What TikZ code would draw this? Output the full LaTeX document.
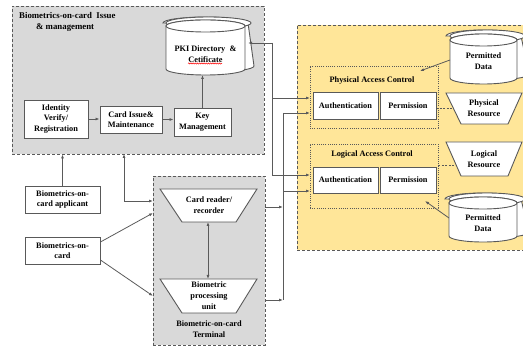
\documentclass[tikz,border=0pt]{standalone}
\usepackage{fontspec}
\setmainfont{Liberation Serif}
\newfontfamily\diagfont{Liberation Serif}
\usetikzlibrary{arrows.meta,decorations.pathmorphing}

\definecolor{panelgray}{HTML}{D9D9D9}
\definecolor{paleyellow}{HTML}{FFE699}
\definecolor{edgegray}{HTML}{595959}
\definecolor{linkgray}{HTML}{5A5A5A}

\tikzset{
  panel/.style={draw=edgegray, line width=0.8pt, dash pattern=on 3pt off 2pt, inner sep=0pt},
  group/.style={draw=edgegray, line width=0.7pt, dash pattern=on 1pt off 1.2pt, inner sep=0pt},
  box/.style={draw=edgegray, line width=0.9pt, fill=white, inner sep=0pt, align=center,
              font=\diagfont\bfseries\fontsize{8.3}{10.5}\selectfont},
  lbl/.style={inner sep=0pt, align=center, font=\diagfont\bfseries\fontsize{8.3}{11}\selectfont},
  trap/.style={draw=edgegray, line width=0.9pt, fill=white},
  drum/.style={draw=edgegray, line width=0.9pt, fill=white},
  link/.style={draw=linkgray, line width=0.8pt, -{Latex[length=4pt,width=3pt]}},
  biarrow/.style={draw=linkgray, line width=0.8pt, {Latex[length=4pt,width=3pt]}-{Latex[length=4pt,width=3pt]}},
  dashlink/.style={draw=edgegray, line width=0.7pt, dash pattern=on 2pt off 1.5pt},
}

% one upright cylinder: left, right, top, bottom, half-height of the rim ellipse
\newcommand\drumbody[5]{%
  \pgfmathsetmacro\drumcx{(#1+#2)/2}%
  \pgfmathsetmacro\drumrx{(#2-#1)/2}%
  \filldraw[drum] (#1,#3+#5) -- (#1,#4-#5)
    arc[start angle=180,end angle=360,x radius=\drumrx pt,y radius=#5 pt]
    -- (#2,#3+#5)
    arc[start angle=0,end angle=180,x radius=\drumrx pt,y radius=#5 pt] -- cycle;
  \draw[drum] (\drumcx,#3+#5) ellipse[x radius=\drumrx pt,y radius=#5 pt];
}
% a stack of two cylinders, the rear one shifted up and right
\newcommand\drumstack[6]{%
  \drumbody{#1+#6}{#2+#6}{#3-#6}{#4-#6}{#5}%
  \drumbody{#1}{#2}{#3}{#4}{#5}%
}

\begin{document}
\begin{tikzpicture}[x=1pt,y=-1pt]
\useasboundingbox (0,0) rectangle (523,347);
\clip (0,0) rectangle (523,347);

% ---------------- panels ----------------
\node[panel, fill=panelgray, minimum width=252pt, minimum height=148pt] (issue) at (138,80) {};
\node[panel, fill=paleyellow, minimum width=232pt, minimum height=225pt] (access) at (413,137.5) {};
\node[panel, fill=panelgray, minimum width=112pt, minimum height=169pt] (term) at (209,260.5) {};

\node[lbl, anchor=north west, align=left, font=\diagfont\bfseries\fontsize{8.8}{11}\selectfont]
  (issuetitle) at (19,12) {Biometrics-on-card~~Issue\\\hspace*{17pt}\& management};

% ---------------- issue & management ----------------
\drumstack{166}{245}{20}{75}{6}{3}
\node[lbl] (pki) at (205.5,54) {PKI Directory~~\&\\Cetificate};
\draw[red, line width=0.5pt, decorate, decoration={snake, amplitude=0.6pt, segment length=2.2pt}]
  (188,63.5) -- (222,63.5);
\coordinate (pkiR) at (248,43);
\coordinate (pkiB) at (202.5,75);

\node[box, minimum width=64pt, minimum height=38pt] (ident) at (56,119) {Identity\\Verify/\\Registration};
\node[box, minimum width=62pt, minimum height=27pt] (issuebox) at (131,119.5) {Card Issue\&\\Maintenance};
\node[box, minimum width=57pt, minimum height=28pt] (keym) at (202.5,122) {Key\\Management};

\draw[link] (ident.east) -- (ident.east -| issuebox.west);
\draw[link] (issuebox.east) -- (issuebox.east -| keym.west);
\draw[link] (keym.north) -- (pkiB);

% ---------------- card holder side ----------------
\node[box, minimum width=75pt, minimum height=27pt] (appl) at (62.5,199.5) {Biometrics-on-\\card applicant};
\node[box, minimum width=75pt, minimum height=27pt] (card) at (62.5,250.5) {Biometrics-on-\\card};

\draw[link] (appl.north) -- (appl.north |- issue.south);

% ---------------- terminal ----------------
\draw[trap] (160,189) -- (257,189) -- (236,222) -- (182,222) -- cycle;
\node[lbl] (reader) at (209,205) {Card reader/\\recorder};
\draw[trap] (160,279) -- (257,279) -- (236,313) -- (182,313) -- cycle;
\node[lbl] (bpu) at (209,296) {Biometric\\processing\\unit};
\node[lbl] (termtitle) at (209,329.5) {Biometric-on-card\\Terminal};

\coordinate (readerB) at (208,222);
\coordinate (bpuT) at (208,279);
\draw[biarrow] (readerB) -- (bpuT);

\coordinate (issueB) at (124,154);
\coordinate (termIn1) at (153,201);
\coordinate (termIn2) at (153,213);
\coordinate (termIn3) at (153,296);
\draw[biarrow] (issueB) |- (termIn1);
\draw[link] ([yshift=8.5pt]card.east) -- (termIn2);
\draw[link] ([yshift=-9.5pt]card.east) -- (termIn3);

% ---------------- access control ----------------
\node[group, minimum width=128pt, minimum height=62pt] (physgrp) at (374,97) {};
\node[lbl] (phystitle) at (372,81) {Physical Access Control};
\node[box, minimum width=65pt, minimum height=27pt] (physA) at (345.5,105.5) {Authentication};
\node[box, minimum width=56pt, minimum height=27pt] (physP) at (408,105.5) {Permission};

\node[group, minimum width=128pt, minimum height=64pt] (loggrp) at (374,176) {};
\node[lbl] (logtitle) at (372,155) {Logical Access Control};
\node[box, minimum width=65pt, minimum height=26pt] (logA) at (345.5,180) {Authentication};
\node[box, minimum width=56pt, minimum height=26pt] (logP) at (408,180) {Permission};

\draw[trap] (446,93) -- (522,93) -- (508,124) -- (461,124) -- cycle;
\node[lbl] (physres) at (484,108) {Physical\\Resource};
\draw[trap] (446,142) -- (522,142) -- (508,176) -- (461,176) -- cycle;
\node[lbl] (logres) at (484,159) {Logical\\Resource};

\coordinate (physResL) at (453.3,108);
\coordinate (logResL) at (456.1,165);
\draw[dashlink] (physP.east |- physResL) -- (physResL);
\draw[dashlink] (loggrp.east |- logResL) -- (logResL);

\drumstack{450}{517}{34}{84}{6}{4}
\node[lbl] (pdata1) at (483.5,61) {Permitted\\Data};
\drumstack{449}{517}{197}{242}{6}{4}
\node[lbl] (pdata2) at (483,223) {Permitted\\Data};

\coordinate (pd1L) at (450,60);
\coordinate (pd1To) at (420,71);
\coordinate (pd2L) at (449,218);
\coordinate (pd2To) at (425,201);
\draw[link] (pd1L) -- (pd1To);
\draw[link] (pd2L) -- (pd2To);

% ---------------- links into access control ----------------
\coordinate (a1) at (272,43);
\coordinate (pIn1) at (310,98);
\coordinate (lIn1) at (310,175);
\draw[link] (a1) -- (pkiR);
\draw[link] (a1) |- (pIn1);
\draw[link] (a1) |- (lIn1);

\coordinate (b1) at (283,113);
\coordinate (b2) at (283,300);
\coordinate (pIn2) at (310,113);
\coordinate (lIn2) at (310,191);
\coordinate (tOut1) at (265,207);
\coordinate (tOut2) at (265,300);
\draw[draw=linkgray, line width=0.8pt] (b1) -- (b2);
\draw[link] (b1) -- (pIn2);
\draw[link] (b1 |- lIn2) -- (lIn2);
\draw[link] (tOut1) -- (b1 |- tOut1);
\draw[link] (tOut2) -- (b1 |- tOut2);

\end{tikzpicture}
\end{document}
